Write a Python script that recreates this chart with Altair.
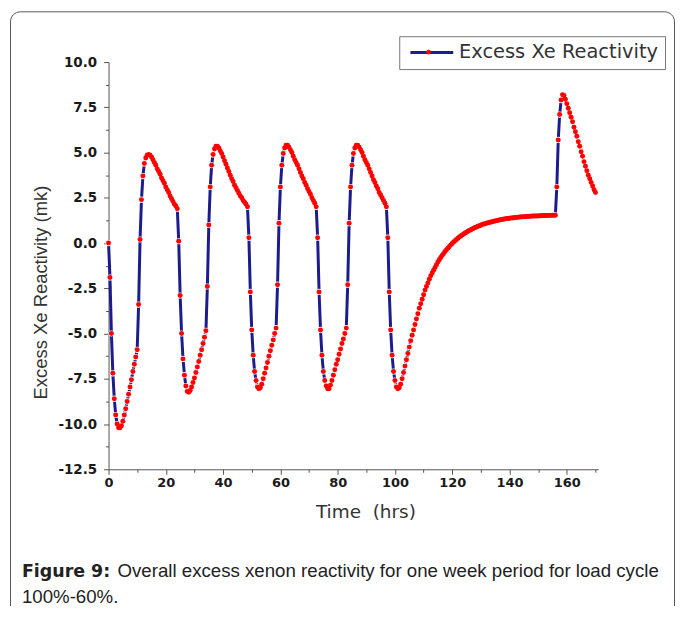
import altair as alt
import pandas as pd

# ---------------- data ----------------
SERIES_NAME = "Excess Xe Reactivity"
STEP_HOURS = 0.5  # sampling interval of the curve, hours

# Excess Xe reactivity (mk), one value every 0.5 h from t = 0 h to t = 170 h
REACTIVITY = [
    0.0, -1.9, -5.0, -7.2, -8.6, -9.5, -10.0, -10.2, -10.2, -10.1,          # 0.0 - 4.5
    -9.85, -9.5, -9.15, -8.75, -8.35, -7.95, -7.55, -7.1, -6.7, -6.3,       # 5.0 - 9.5
    -5.9, -3.4, 0.2, 2.4, 3.7, 4.4, 4.7, 4.85, 4.9, 4.85,                   # 10.0 - 14.5
    4.75, 4.6, 4.45, 4.3, 4.1, 3.95, 3.8, 3.6, 3.45, 3.3,                   # 15.0 - 19.5
    3.1, 2.95, 2.8, 2.6, 2.45, 2.3, 2.15, 2.05, 1.9, 0.1,                   # 20.0 - 24.5
    -2.9, -5.0, -6.4, -7.3, -7.9, -8.2, -8.25, -8.15, -7.95, -7.7,          # 25.0 - 29.5
    -7.45, -7.15, -6.85, -6.55, -6.2, -5.9, -5.55, -5.2, -4.85, -2.4,       # 30.0 - 34.5
    1.0, 3.1, 4.3, 4.9, 5.2, 5.35, 5.35, 5.25, 5.1, 4.95,                   # 35.0 - 39.5
    4.75, 4.55, 4.35, 4.15, 3.95, 3.75, 3.55, 3.4, 3.2, 3.05,               # 40.0 - 44.5
    2.9, 2.75, 2.6, 2.5, 2.35, 2.25, 2.15, 2.0, 0.3, -2.7,                  # 45.0 - 49.5
    -4.8, -6.2, -7.1, -7.6, -7.95, -8.05, -8.0, -7.8, -7.5, -7.2,           # 50.0 - 54.5
    -6.9, -6.6, -6.25, -5.95, -5.65, -5.35, -5.0, -4.7, -2.3, 1.1,          # 55.0 - 59.5
    3.1, 4.3, 4.95, 5.25, 5.4, 5.4, 5.3, 5.15, 5.0, 4.8,                    # 60.0 - 64.5
    4.6, 4.45, 4.3, 4.1, 3.9, 3.7, 3.55, 3.35, 3.2, 3.0,                    # 65.0 - 69.5
    2.85, 2.7, 2.5, 2.35, 2.2, 2.0, 0.3, -2.7, -4.8, -6.2,                  # 70.0 - 74.5
    -7.1, -7.6, -7.9, -8.05, -8.05, -7.85, -7.6, -7.3, -7.0, -6.7,          # 75.0 - 79.5
    -6.45, -6.15, -5.85, -5.55, -5.3, -5.0, -4.7, -2.3, 1.1, 3.1,           # 80.0 - 84.5
    4.3, 4.95, 5.25, 5.4, 5.4, 5.3, 5.15, 5.0, 4.8, 4.6,                    # 85.0 - 89.5
    4.45, 4.3, 4.1, 3.9, 3.7, 3.5, 3.35, 3.15, 3.0, 2.8,                    # 90.0 - 94.5
    2.65, 2.5, 2.35, 2.2, 2.0, 0.3, -2.7, -4.8, -6.2, -7.1,                 # 95.0 - 99.5
    -7.6, -7.95, -8.05, -8.0, -7.8, -7.5, -7.15, -6.8, -6.45, -6.1,         # 100.0 - 104.5
    -5.75, -5.4, -5.1, -4.8, -4.5, -4.2, -3.9, -3.6, -3.35, -3.1,           # 105.0 - 109.5
    -2.85, -2.6, -2.4, -2.2, -2.0, -1.8, -1.65, -1.5, -1.35, -1.2,          # 110.0 - 114.5
    -1.05, -0.92, -0.8, -0.68, -0.57, -0.47, -0.37, -0.28, -0.19, -0.1,     # 115.0 - 119.5
    -0.02, 0.06, 0.13, 0.2, 0.27, 0.33, 0.39, 0.45, 0.5, 0.55,              # 120.0 - 124.5
    0.6, 0.65, 0.7, 0.74, 0.78, 0.82, 0.86, 0.89, 0.93, 0.96,               # 125.0 - 129.5
    0.99, 1.02, 1.05, 1.07, 1.1, 1.12, 1.14, 1.16, 1.18, 1.2,               # 130.0 - 134.5
    1.22, 1.24, 1.26, 1.28, 1.29, 1.31, 1.32, 1.34, 1.35, 1.36,             # 135.0 - 139.5
    1.37, 1.38, 1.39, 1.4, 1.41, 1.42, 1.43, 1.44, 1.44, 1.45,              # 140.0 - 144.5
    1.46, 1.46, 1.47, 1.47, 1.48, 1.48, 1.49, 1.49, 1.5, 1.5,               # 145.0 - 149.5
    1.5, 1.51, 1.51, 1.51, 1.52, 1.52, 1.52, 1.53, 1.53, 1.53,              # 150.0 - 154.5
    1.54, 1.54, 1.54, 3.1, 5.7, 7.1, 7.9, 8.2, 8.15, 7.95,                  # 155.0 - 159.5
    7.7, 7.45, 7.2, 6.95, 6.7, 6.4, 6.15, 5.9, 5.6, 5.35,                   # 160.0 - 164.5
    5.05, 4.8, 4.5, 4.25, 4.0, 3.75, 3.55, 3.35, 3.15, 2.95,                # 165.0 - 169.5
    2.8,                                                                     # 170.0
]
TIME_HOURS = [round(i * STEP_HOURS, 1) for i in range(len(REACTIVITY))]

X_TICKS = [0, 20, 40, 60, 80, 100, 120, 140, 160]
X_MINOR_TICKS = [10, 30, 50, 70, 90, 110, 130, 150, 170]
Y_TICKS = [-12.5, -10.0, -7.5, -5.0, -2.5, 0.0, 2.5, 5.0, 7.5, 10.0]
Y_MINOR_TICKS = [-11.25, -8.75, -6.25, -3.75, -1.25, 1.25, 3.75, 6.25, 8.75]
X_DOMAIN = [0, 171]
Y_DOMAIN = [-12.5, 10]

X_TITLE = "Time\u00a0 (hrs)"
Y_TITLE = "Excess Xe Reactivity (mk)"
CAPTION_BOLD = "Figure 9:"
CAPTION_LINE1 = "Overall excess xenon reactivity for one week period for load cycle"
CAPTION_LINE2 = "100%-60%."

# ---------------- styling ----------------
NAVY = "#1c1c8c"
RED = "#ff0000"
W, H = 492, 409
HYPHEN_LABELS = "replace(datum.label, '\u2212', '-')"

df = pd.DataFrame({"t": TIME_HOURS, "v": REACTIVITY})
df["s"] = SERIES_NAME
df["m"] = "marker"

x_scale = alt.Scale(domain=X_DOMAIN, nice=False, zero=False)
y_scale = alt.Scale(domain=Y_DOMAIN, nice=False, zero=False)

x_major = alt.Axis(
    values=X_TICKS, title=X_TITLE, format="d", orient="bottom",
    labelFont="DejaVu Sans", labelFontWeight="bold", labelFontSize=13, labelColor="#1a1a1a",
    labelPadding=2, tickSize=5, labelFlush=False,
    titleFont="DejaVu Sans", titleFontSize=18.5, titleFontWeight="normal", titleColor="#333333",
    titleX=258, titleY=42, titleBaseline="middle", titleAlign="center",
)
y_major = alt.Axis(
    values=Y_TICKS, title=Y_TITLE, format=".1f", orient="left", labelExpr=HYPHEN_LABELS,
    labelFont="DejaVu Sans", labelFontWeight="bold", labelFontSize=13.5, labelColor="#1a1a1a",
    labelPadding=7, tickSize=5, labelFlush=False,
    titleFont="Liberation Sans", titleFontSize=18.5, titleFontWeight="normal", titleColor="#333333",
    titleX=-68, titleY=231, titleAngle=270, titleBaseline="middle", titleAlign="center",
)
x_minor = alt.Axis(values=X_MINOR_TICKS, orient="bottom", labels=False, domain=False,
                   tickSize=3, title=None)
y_minor = alt.Axis(values=Y_MINOR_TICKS, orient="left", labels=False, domain=False,
                   tickSize=3, title=None)

line = alt.Chart(df).mark_line(strokeWidth=3).encode(
    x=alt.X("t:Q", scale=x_scale, axis=x_major),
    y=alt.Y("v:Q", scale=y_scale, axis=y_major),
    color=alt.Color(
        "s:N",
        scale=alt.Scale(domain=[SERIES_NAME], range=[NAVY]),
        legend=alt.Legend(
            orient="none", legendX=292, legendY=-26, title=None,
            symbolType="M-2.5,0H19", symbolSize=16, symbolStrokeWidth=3,
            labelFont="DejaVu Sans", labelFontSize=19.5, labelColor="#333333",
            labelOffset=34, labelLimit=0, padding=6.5,
            strokeColor="#777777", fillColor="white", zindex=1,
        ),
    ),
)

# white gap around every symbol, as the plotting program leaves between line and marker
gaps = alt.Chart(df).mark_circle(size=38, opacity=1, color="white").encode(
    x=alt.X("t:Q", scale=x_scale, axis=None),
    y=alt.Y("v:Q", scale=y_scale, axis=None),
)

points = alt.Chart(df).mark_circle(size=25, opacity=1).encode(
    x=alt.X("t:Q", scale=x_scale, axis=x_minor),
    y=alt.Y("v:Q", scale=y_scale, axis=y_minor),
    fill=alt.Fill(
        "m:N",
        scale=alt.Scale(domain=["marker"], range=[RED]),
        legend=alt.Legend(
            orient="none", legendX=319, legendY=-12.5, title=None,
            symbolType="circle", symbolSize=22, symbolStrokeWidth=0,
            labelExpr="''", labelFontSize=1, padding=0, zindex=2,
        ),
    ),
)

one = alt.Data(values=[{"k": 1}])

frame = alt.Chart(one).mark_rect(
    fillOpacity=0, stroke="#555555", strokeWidth=1, cornerRadius=10
).encode(
    x=alt.value(-98.5), x2=alt.value(568.5), y=alt.value(-50.5), y2=alt.value(640)
)

cap_bold = alt.Chart(one).mark_text(
    align="left", baseline="alphabetic", font="DejaVu Sans", fontSize=17.5,
    fontWeight="bold", color="#222222"
).encode(x=alt.value(-87), y=alt.value(517), text=alt.value(CAPTION_BOLD))

cap_l1 = alt.Chart(one).mark_text(
    align="left", baseline="alphabetic", font="Liberation Sans", fontSize=18.75,
    color="#222222"
).encode(x=alt.value(9), y=alt.value(517), text=alt.value(CAPTION_LINE1))

cap_l2 = alt.Chart(one).mark_text(
    align="left", baseline="alphabetic", font="Liberation Sans", fontSize=18.75,
    color="#222222"
).encode(x=alt.value(-87), y=alt.value(543.5), text=alt.value(CAPTION_LINE2))

chart = (
    alt.layer(frame, line, gaps, points, cap_bold, cap_l1, cap_l2)
    .resolve_axis(x="independent", y="independent")
    .properties(
        width=W, height=H,
        autosize=alt.AutoSizeParams(type="none"),
        padding={"left": 101, "top": 53, "right": 77, "bottom": 136},
        background="white",
    )
    .configure_view(stroke=None)
    .configure_axis(grid=False, domainColor="#555555", tickColor="#555555",
                    domainWidth=1, tickWidth=1)
)

chart.save("out.html", embed_options={"renderer": "svg", "actions": False})
